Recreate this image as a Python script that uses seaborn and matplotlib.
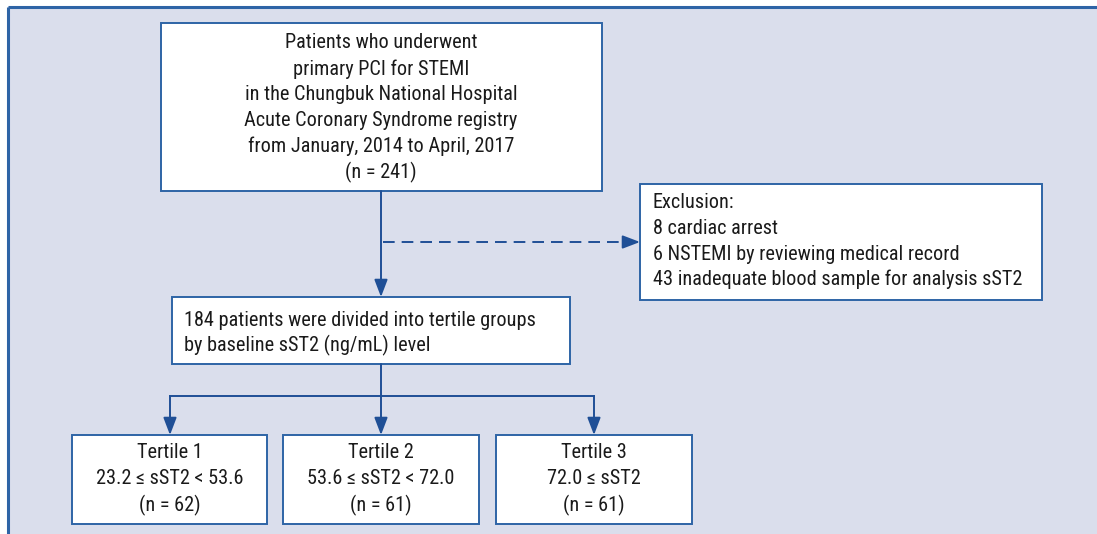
import matplotlib
matplotlib.use("Agg")
import matplotlib.pyplot as plt
from matplotlib.patches import Rectangle
import seaborn as sns

# texts of the flow chart
top_lines = [
    "Patients who underwent",
    "primary PCI for STEMI",
    "in the Chungbuk National Hospital",
    "Acute Coronary Syndrome registry",
    "from January, 2014 to April, 2017",
    "(n = 241)",
]
excl_lines = [
    "Exclusion:",
    "8 cardiac arrest",
    "6 NSTEMI by reviewing medical record",
    "43 inadequate blood sample for analysis sST2",
]
mid_lines = [
    "184 patients were divided into tertile groups",
    "by baseline sST2 (ng/mL) level",
]
tertile_names = ["Tertile 1", "Tertile 2", "Tertile 3"]
tertile_ranges = ["23.2 \u2264 sST2 < 53.6", "53.6 \u2264 sST2 < 72.0", "72.0 \u2264 sST2"]
tertile_n = [62, 61, 61]

sns.set_theme(style="white")
plt.rcParams["font.family"] = ["Roboto Condensed", "DejaVu Sans"]

W, H = 1097, 534
blue = "#1f4f96"
edge = "#2e64a6"
bg = "#dadeec"
txt = "#1a1a1a"
fs = 14.6

fig = plt.figure(figsize=(W / 100, H / 100), dpi=100)
ax = fig.add_axes([0, 0, 1, 1])
ax.set_xlim(0, W)
ax.set_ylim(H, 0)
ax.axis("off")

# panel
ax.add_patch(Rectangle((8, 7), W, H, facecolor=bg, edgecolor="none", zorder=0))
ax.plot([8, 8], [H, 7], color=edge, lw=2.2, solid_capstyle="butt", zorder=1)
ax.plot([8, W], [7, 7], color=edge, lw=2.2, solid_capstyle="butt", zorder=1)


def box(x0, y0, x1, y1):
    ax.add_patch(Rectangle((x0, y0), x1 - x0, y1 - y0, facecolor="white",
                           edgecolor=edge, lw=1.4, zorder=2))


def arrow(x0, y0, x1, y1, ls="-"):
    ax.annotate("", xy=(x1, y1), xytext=(x0, y0),
                arrowprops=dict(arrowstyle="-|>,head_length=1.05,head_width=0.4",
                                color=blue, lw=1.4, linestyle=ls,
                                shrinkA=0, shrinkB=0, mutation_scale=10),
                zorder=3)


# top box
box(161, 23, 602, 191)
for i, s in enumerate(top_lines):
    ax.text(381, 43 + i * 25.8, s, ha="center", va="center", fontsize=fs, color=txt, zorder=4)

# exclusion box
box(640, 184, 1042, 300)
for i, s in enumerate(excl_lines):
    ax.text(653, 203 + i * 25.5, s, ha="left", va="center", fontsize=fs, color=txt, zorder=4)

# middle box
box(172, 297, 570, 364)
for i, s in enumerate(mid_lines):
    ax.text(184, 320 + i * 25.5, s, ha="left", va="center", fontsize=fs, color=txt, zorder=4)

# main flow + exclusion
arrow(381, 191, 381, 297)
ax.plot([383, 625], [242, 242], color=blue, lw=1.4, linestyle=(0, (6, 3.6)), zorder=3)
arrow(625, 242, 640, 242)

# split to tertiles
tx = [170, 381, 594]
ax.plot([381, 381], [364, 396], color=blue, lw=1.4, zorder=3)
ax.plot([tx[0], tx[2]], [396, 396], color=blue, lw=1.4, solid_capstyle="projecting", zorder=3)
boxes_x = [(72, 267), (283, 479), (496, 692)]
for i, (x0, x1) in enumerate(boxes_x):
    arrow(tx[i], 396, tx[i], 435)
    box(x0, 435, x1, 524)
    cx = (x0 + x1) / 2
    ax.text(cx, 453, tertile_names[i], ha="center", va="center", fontsize=fs, color=txt, zorder=4)
    ax.text(cx, 479, tertile_ranges[i], ha="center", va="center", fontsize=fs, color=txt, zorder=4)
    ax.text(cx, 505, f"(n = {tertile_n[i]})", ha="center", va="center", fontsize=fs, color=txt, zorder=4)

fig.savefig("out.png", dpi=100, facecolor="white")
